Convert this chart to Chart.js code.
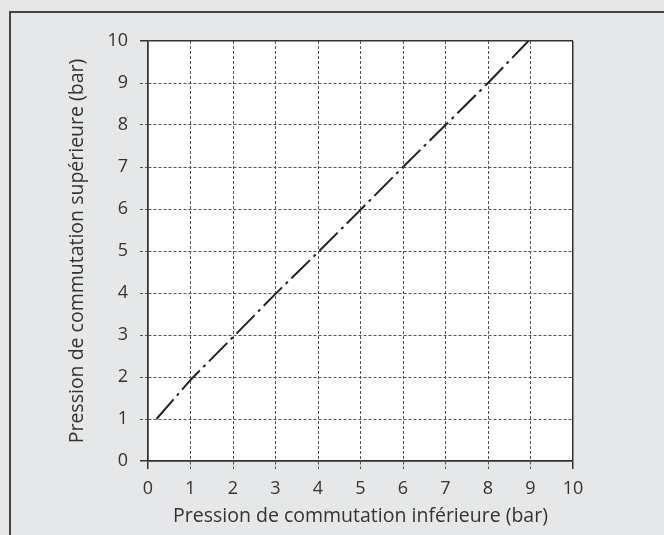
<!DOCTYPE html>
<html>
<head>
<meta charset="utf-8">
<script src="https://cdn.jsdelivr.net/npm/chart.js@4"></script>
<style>
  html, body { margin: 0; padding: 0; background: #e6e7e8; }
  #wrap { width: 664px; height: 535px; }
</style>
</head>
<body>
<div id="wrap"><canvas id="pressureChart" width="664" height="535"></canvas></div>
<script>
const textColor = '#333333';
const frameColor = '#444444';
const gridColor = '#555555';

const lowerPressure = [0.2, 1, 2, 3, 4, 5, 6, 7, 8, 8.95];
const upperPressure = [1, 1.93, 2.95, 3.98, 4.97, 5.98, 7, 8, 9, 10];
const tickValues = [0, 1, 2, 3, 4, 5, 6, 7, 8, 9, 10];

const xTitle = 'Pression de commutation inférieure (bar)';
const yTitle = 'Pression de commutation supérieure (bar)';

const points = lowerPressure.map((x, i) => ({ x: x, y: upperPressure[i] }));

const isEdge = ctx => ctx.type === 'tick' && (ctx.index === 0 || ctx.index === tickValues.length - 1);

const panelBackground = {
    id: 'panelBackground',
    beforeDraw(chart) {
        const c = chart.ctx;
        const a = chart.chartArea;
        c.save();
        c.fillStyle = '#e6e7e8';
        c.fillRect(0, 0, chart.width, chart.height);
        c.strokeStyle = frameColor;
        c.lineWidth = 2;
        c.beginPath();
        c.moveTo(10, chart.height);
        c.lineTo(10, 12);
        c.lineTo(chart.width, 12);
        c.stroke();
        c.fillStyle = '#ffffff';
        c.fillRect(a.left, a.top, a.right - a.left, a.bottom - a.top);
        c.restore();
    }
};

function axisOptions(title, isX) {
    return {
        type: 'linear',
        min: 0,
        max: 10,
        afterBuildTicks: axis => { axis.ticks = tickValues.map(v => ({ value: v })); },
        afterFit: axis => {
            if (isX) axis.height = 74; else axis.width = 148;
        },
        grid: {
            color: ctx => isEdge(ctx) ? '#333333' : gridColor,
            lineWidth: ctx => isEdge(ctx) ? 1.5 : 1,
            tickLength: 8,
            tickBorderDash: ctx => isEdge(ctx) ? [] : [3, 2]
        },
        border: {
            color: '#333333',
            width: 1.5,
            dash: ctx => (ctx.type === 'tick' && !isEdge(ctx)) ? [3, 2] : []
        },
        ticks: {
            color: textColor,
            padding: isX ? 9 : 12,
            font: { family: 'Open Sans', size: 18 },
            autoSkip: false,
            maxRotation: 0
        },
        title: {
            display: true,
            text: title,
            color: textColor,
            font: { family: 'Open Sans', size: 19.5 },
            padding: isX ? { top: 2, bottom: 7 } : { top: 66, bottom: 4 }
        }
    };
}

new Chart(document.getElementById('pressureChart').getContext('2d'), {
    type: 'scatter',
    data: {
        datasets: [{
            data: points,
            showLine: true,
            borderColor: '#222222',
            borderWidth: 2,
            borderDash: [26, 5, 3, 5],
            pointRadius: 0,
            tension: 0
        }]
    },
    options: {
        responsive: false,
        animation: false,
        layout: { padding: { left: 0, top: 41, right: 91, bottom: 0 } },
        scales: {
            x: axisOptions(xTitle, true),
            y: axisOptions(yTitle, false)
        },
        plugins: {
            legend: { display: false },
            tooltip: { enabled: false }
        }
    },
    plugins: [panelBackground]
});
</script>
</body>
</html>
